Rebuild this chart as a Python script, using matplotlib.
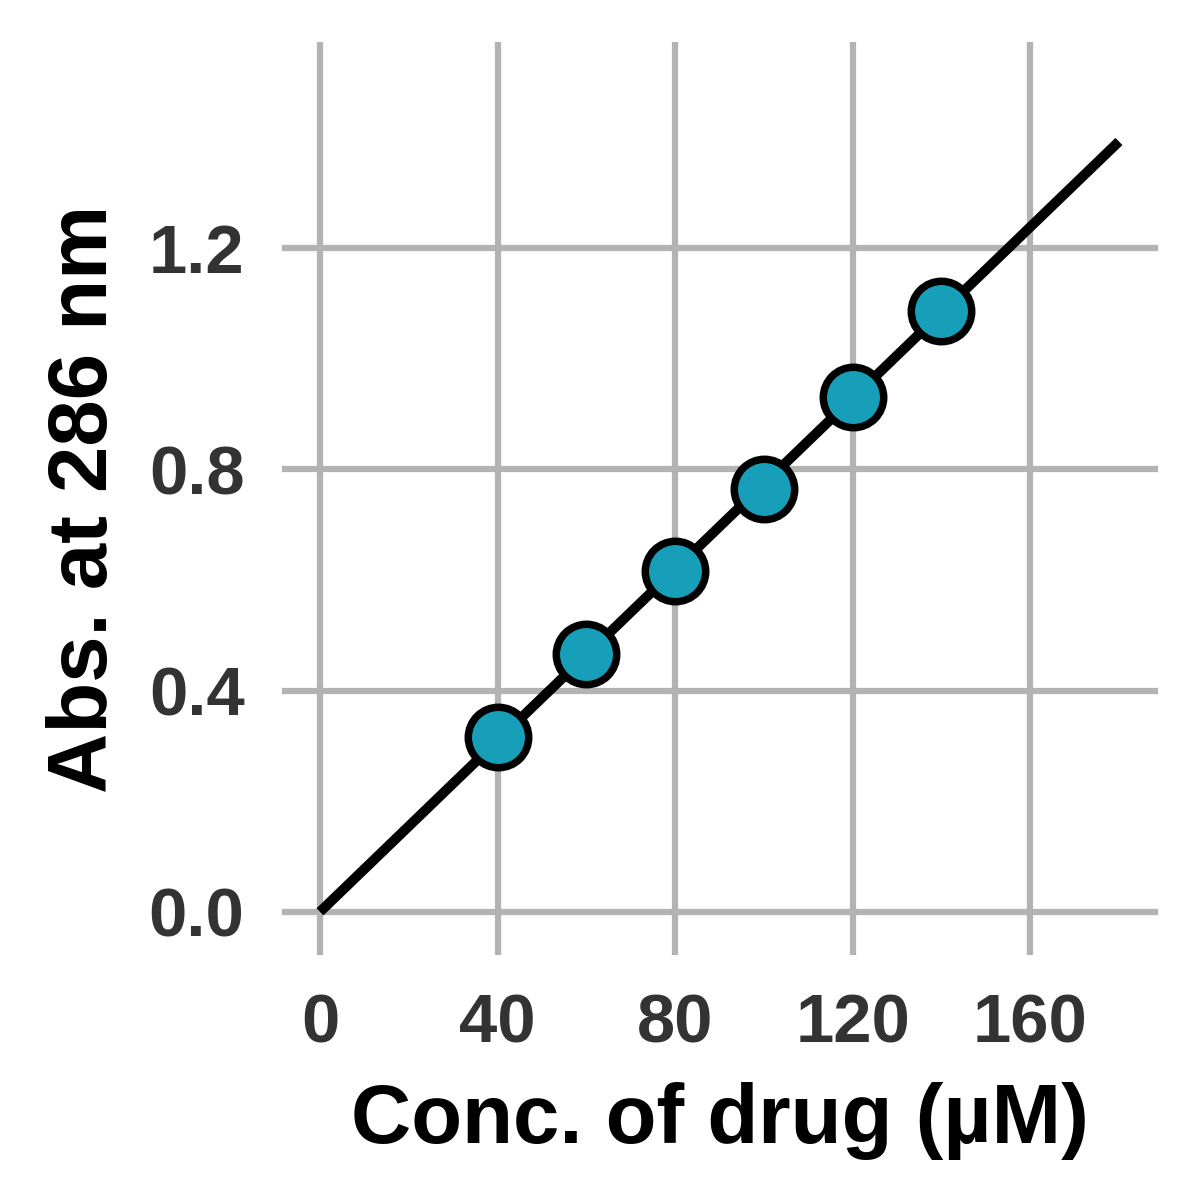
import numpy as np
import matplotlib
matplotlib.use("Agg")
import matplotlib.pyplot as plt

plt.rcParams['font.family'] = ['Liberation Sans', 'DejaVu Sans']

# data
conc = np.array([40, 60, 80, 100, 120, 140])
absorb = np.array([0.316, 0.466, 0.616, 0.764, 0.931, 1.086])
x_ticks = [0, 40, 80, 120, 160]
y_ticks = [0.0, 0.4, 0.8, 1.2]
fit_range = [0, 180]

# least squares line through origin
slope = np.sum(conc * absorb) / np.sum(conc ** 2)
x_fit = np.array(fit_range)
y_fit = slope * x_fit

fig = plt.figure(figsize=(4, 4), dpi=300)
ax = fig.add_axes([282 / 1200, 1 - 955 / 1200, (1158 - 282) / 1200, (955 - 42) / 1200])

ax.plot(x_fit, y_fit, color='black', linewidth=2.4, solid_capstyle='butt', zorder=3)
ax.scatter(conc, absorb, s=14.5 ** 2, color='#179fba', edgecolor='black',
           linewidth=1.8, zorder=4)

ax.set_xlim(-8.56, 188.8)
ax.set_ylim(-0.078, 1.572)
ax.set_xticks(x_ticks)
ax.set_yticks(y_ticks)
ax.set_xticklabels([str(t) for t in x_ticks])
ax.set_yticklabels([f"{t:.1f}" for t in y_ticks])
ax.grid(True, color='#b3b3b3', linewidth=1.5)
ax.set_axisbelow(True)
for s in ax.spines.values():
    s.set_visible(False)
ax.tick_params(axis='x', length=0, pad=9, labelsize=16.5, labelcolor='#333333')
ax.tick_params(axis='y', length=0, pad=9, labelsize=16.5, labelcolor='#333333')
for lab in ax.get_xticklabels() + ax.get_yticklabels():
    lab.set_fontweight('bold')

ax.set_xlabel("Conc. of drug (µM)", fontsize=20, fontweight='bold', labelpad=6)
ax.set_ylabel("Abs. at 286 nm", fontsize=20, fontweight='bold', labelpad=6)

fig.savefig("out.png", dpi=300)
